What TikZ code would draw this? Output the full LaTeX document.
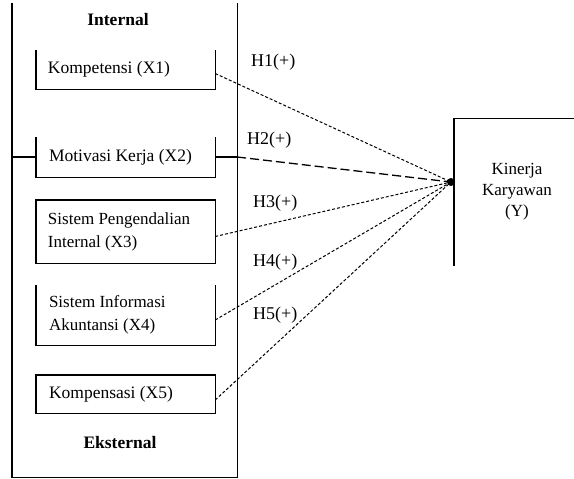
\documentclass[tikz,border=0pt]{standalone}
\usepackage{fontspec}
\setmainfont{Liberation Serif}
\begin{document}
\begin{tikzpicture}[x=1pt,y=-1pt,
  every node/.style={inner sep=0pt, font=\fontsize{17}{23}\selectfont},
  frame/.style={minimum width=179pt, draw=none},
  boxtxt/.style={anchor=west, align=left},
  ln/.style={line width=1.4pt},
  hlab/.style={anchor=west, font=\fontsize{18}{22}\selectfont},
  dsh/.style={line width=1pt, dash pattern=on 3pt off 2pt},
  longdsh/.style={line width=1.3pt, dash pattern=on 9pt off 4pt},
  head/.style={font=\bfseries\fontsize{17.5}{22}\selectfont}]
\useasboundingbox (0,0) rectangle (574,479);
% outer frame
\node[minimum width=225pt, minimum height=474pt] (outer) at (124.5,240) {};
\draw[ln] (outer.north west) -- (outer.south west) -- (outer.south east) -- (outer.north east);
\node[head] (internal) at (118,20) {Internal};
\node[head] (eksternal) at (120,443) {Eksternal};
% boxes
\node[frame, minimum height=39pt] (bx1) at (125.5,69.5) {};
\node[frame, minimum height=40pt] (bx2) at (125.5,157) {};
\node[frame, minimum height=63pt] (bx3) at (125.5,231.5) {};
\node[frame, minimum height=60pt] (bx4) at (125.5,315) {};
\node[frame, minimum height=38pt] (bx5) at (125.5,394) {};
\draw[ln] (bx1.north west) -- (bx1.south west) -- (bx1.south east) -- (bx1.north east);
\draw[ln] (bx2.north west) -- (bx2.south west) -- (bx2.south east) -- (bx2.north east);
\draw[ln] (bx3.north west) rectangle (bx3.south east);
\draw[ln] (bx4.north west) -- (bx4.south west) -- (bx4.south east) -- (bx4.north east);
\draw[ln] (bx5.north west) rectangle (bx5.south east);
\node[boxtxt, font=\fontsize{17.5}{23}\selectfont] (t1) at ([xshift=12pt]bx1.west) {Kompetensi (X1)};
\node[boxtxt, font=\fontsize{17.5}{23}\selectfont] (t2) at ([xshift=13pt]bx2.west) {Motivasi Kerja (X2)};
\node[boxtxt] (t3) at ([xshift=12pt]bx3.west) {Sistem Pengendalian\\Internal (X3)};
\node[boxtxt] (t4) at ([xshift=13pt]bx4.west) {Sistem Informasi\\Akuntansi (X4)};
\node[boxtxt, font=\fontsize{17.5}{23}\selectfont] (t5) at ([xshift=13pt]bx5.west) {Kompensasi (X5)};
% dependent box
\node[minimum width=126pt, minimum height=147pt, align=center, font=\fontsize{17}{21}\selectfont] (ybox) at (517,192) {Kinerja\\Karyawan\\(Y)};
\coordinate (edge) at (574,0);
\draw[ln] (ybox.south west) -- (ybox.north west) -- (ybox.north west -| edge);
\coordinate (hub) at (451,182);
\fill (hub) circle (4pt);
% stubs for X2
\draw[ln] (outer.west |- bx2.east) -- (bx2.west);
\coordinate (x2out) at (outer.east |- bx2.east);
\draw[ln] (bx2.east) -- (x2out);
% connectors
\draw[dsh] ([yshift=-4pt]bx1.east) -- (hub);
\draw[longdsh] (x2out) -- (hub);
\draw[dsh] ([yshift=-5pt]bx3.east) -- (hub);
\draw[dsh] ([yshift=-5pt]bx4.east) -- (hub);
\draw[dsh] ([yshift=-6pt]bx5.east) -- (hub);
% labels
\node[hlab] (h1) at (251,62) {H1(+)};
\node[hlab] (h2) at (247,140) {H2(+)};
\node[hlab] (h3) at (253,203) {H3(+)};
\node[hlab] (h4) at (253,262) {H4(+)};
\node[hlab] (h5) at (253,315) {H5(+)};
\end{tikzpicture}
\end{document}
